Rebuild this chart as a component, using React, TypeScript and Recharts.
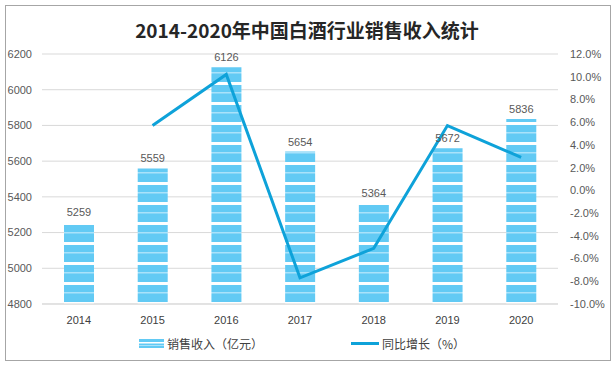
import {
  Bar,
  CartesianGrid,
  ComposedChart,
  LabelList,
  Line,
  XAxis,
  YAxis,
} from "recharts";

const years = ["2014", "2015", "2016", "2017", "2018", "2019", "2020"];
const revenue = [5259, 5559, 6126, 5654, 5364, 5672, 5836];
const growth: (number | null)[] = [null, 5.7, 10.2, -7.7, -5.1, 5.7, 2.9];

const leftTicks = [4800, 5000, 5200, 5400, 5600, 5800, 6000, 6200];
const rightTicks = [-10, -8, -6, -4, -2, 0, 2, 4, 6, 8, 10, 12];

const data = years.map((y, i) => ({ year: y, revenue: revenue[i], growth: growth[i] }));

const BAR = "#62CAF4";
const LINE = "#0EA2D9";
const FONT = "'Liberation Sans', Arial, sans-serif";
const CJK = "'Noto Sans CJK SC', sans-serif";

export default function App() {
  return (
    <div style={{ position: "absolute", left: 0, top: 0, width: 614, height: 365, background: "#fff" }}>
      <div
        style={{
          position: "absolute",
          left: 5,
          top: 5,
          width: 604,
          height: 354,
          border: "1px solid #a6a6a6",
        }}
      />
      <div
        style={{
          position: "absolute",
          top: 15,
          left: 0,
          width: 614,
          textAlign: "center",
          fontFamily: CJK,
          fontWeight: 700,
          fontSize: 19,
          color: "#262626",
          lineHeight: "30px",
        }}
      >
        2014-2020年中国白酒行业销售收入统计
      </div>
      <div style={{ position: "absolute", left: 0, top: 0 }}>
        <ComposedChart
          width={614}
          height={365}
          data={data}
          margin={{ top: 54, right: 6, left: 0, bottom: 31 }}
        >
          <defs>
            <pattern id="stripes" patternUnits="userSpaceOnUse" width="10" height="20" y="2">
              <rect x="0" y="0" width="10" height="20" fill={BAR} />
              <rect x="0" y="0" width="10" height="3" fill="#ffffff" />
              <rect x="0" y="10" width="10" height="1.5" fill="#a9e2fa" />
            </pattern>
          </defs>
          <CartesianGrid stroke="#d9d9d9" vertical={false} yAxisId="left" />
          <XAxis
            dataKey="year"
            height={30}
            tickLine={false}
            axisLine={{ stroke: "#d9d9d9" }}
            tickMargin={6}
            tick={{ fill: "#404040", fontSize: 11, fontFamily: FONT }}
          />
          <YAxis
            yAxisId="left"
            domain={[4800, 6200]}
            ticks={leftTicks}
            width={42}
            tickLine={false}
            axisLine={false}
            tickMargin={4}
            interval={0}
            tick={{ fill: "#595959", fontSize: 11, fontFamily: FONT }}
          />
          <YAxis
            yAxisId="right"
            orientation="right"
            domain={[-10, 12]}
            ticks={rightTicks}
            width={50}
            tickLine={false}
            axisLine={false}
            tickMargin={6}
            interval={0}
            tickFormatter={(v: number) => `${v.toFixed(1)}%`}
            tick={{ fill: "#595959", fontSize: 11, fontFamily: FONT }}
          />
          <Bar
            yAxisId="left"
            dataKey="revenue"
            barSize={30}
            fill="url(#stripes)"
            isAnimationActive={false}
          >
            <LabelList
              dataKey="revenue"
              position="top"
              offset={6}
              fill="#595959"
              fontSize={11}
              fontFamily={FONT}
            />
          </Bar>
          <Line
            yAxisId="right"
            dataKey="growth"
            stroke={LINE}
            strokeWidth={3}
            dot={false}
            activeDot={false}
            isAnimationActive={false}
          />
        </ComposedChart>
      </div>
      <div
        style={{
          position: "absolute",
          top: 334,
          left: 0,
          width: 614,
          height: 20,
          fontFamily: CJK,
          fontSize: 12,
          color: "#404040",
        }}
      >
        <svg style={{ position: "absolute", left: 139, top: 5 }} width={25} height={9}>
          <rect x={0} y={0} width={25} height={9} fill={BAR} />
          <rect x={0} y={3} width={25} height={1.5} fill="#ffffff" />
          <rect x={0} y={6} width={25} height={1} fill="#a9e2fa" />
        </svg>
        <span style={{ position: "absolute", left: 167, top: 0, lineHeight: "20px" }}>
          销售收入（亿元）
        </span>
        <svg style={{ position: "absolute", left: 351, top: 8 }} width={28} height={4}>
          <rect x={0} y={0} width={28} height={3} fill={LINE} />
        </svg>
        <span style={{ position: "absolute", left: 382, top: 0, lineHeight: "20px" }}>
          同比增长（%）
        </span>
      </div>
    </div>
  );
}
